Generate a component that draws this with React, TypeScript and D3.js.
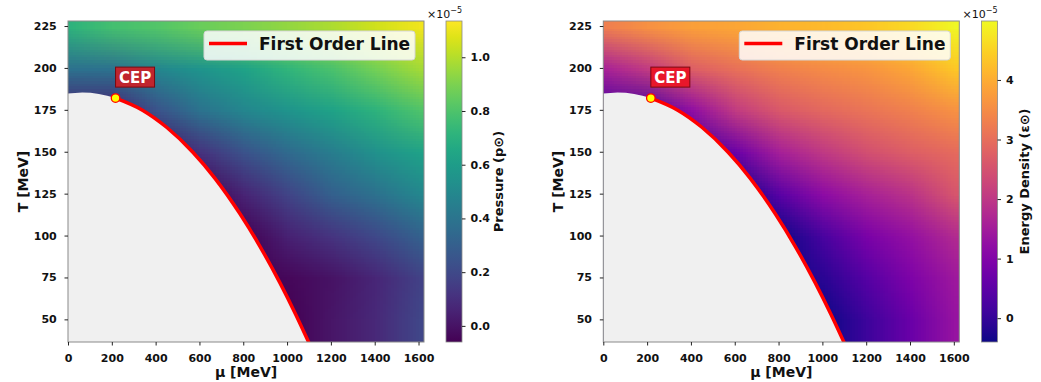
import React, { useEffect, useRef } from 'react';
import * as d3 from 'd3';

const W = 1041;
const H = 382;
const FONT = 'DejaVu Sans, Verdana, sans-serif';

// axis ticks
const muTicks = [0, 200, 400, 600, 800, 1000, 1200, 1400, 1600];
const tTicks = [50, 75, 100, 125, 150, 175, 200, 225];
const muDomain = [0, 1625];
const tDomain = [36.5, 228];

// grid the colour maps were read on
const gridMu = [0, 200, 400, 600, 800, 1000, 1200, 1400, 1600];
const gridT = [225, 200, 175, 150, 125, 100, 75, 50];

// pressure in units of 1e-5, rows follow gridT (cells inside the hadronic region are covered)
const pressure = [
  [0.71, 0.78, 0.81, 0.86, 0.9, 0.94, 0.99, 1.05, 1.11],
  [0.38, 0.39, 0.49, 0.56, 0.63, 0.72, 0.79, 0.88, 0.97],
  [0.06, 0.06, 0.24, 0.39, 0.49, 0.56, 0.63, 0.71, 0.8],
  [-0.06, -0.06, 0.0, 0.11, 0.24, 0.35, 0.44, 0.54, 0.62],
  [-0.06, -0.06, -0.06, -0.06, 0.06, 0.18, 0.3, 0.38, 0.49],
  [-0.06, -0.06, -0.06, -0.06, -0.06, 0.05, 0.12, 0.2, 0.3],
  [-0.06, -0.06, -0.06, -0.06, -0.06, -0.04, 0.0, 0.07, 0.17],
  [-0.06, -0.06, -0.06, -0.06, -0.06, -0.06, 0.01, 0.08, 0.19],
];

// energy density in units of 1e-5
const energy = [
  [3.27, 3.59, 3.8, 3.91, 4.07, 4.18, 4.34, 4.61, 4.95],
  [1.59, 2.08, 2.73, 3.05, 3.32, 3.48, 3.64, 3.91, 4.34],
  [0.25, 0.25, 1.22, 2.08, 2.62, 2.89, 3.1, 3.32, 3.59],
  [-0.4, -0.4, 0.03, 0.68, 1.54, 2.03, 2.46, 2.73, 2.94],
  [-0.4, -0.4, -0.4, -0.4, 0.46, 1.16, 1.59, 1.92, 2.56],
  [-0.4, -0.4, -0.4, -0.4, -0.4, 0.25, 0.89, 1.27, 1.76],
  [-0.4, -0.4, -0.4, -0.4, -0.4, -0.13, 0.41, 0.95, 1.43],
  [-0.4, -0.4, -0.4, -0.4, -0.4, -0.4, 0.09, 0.68, 1.32],
];

// phase boundary (crossover up to the CEP, first order line after it)
const boundaryMu = [0, 65, 217, 340, 450, 570, 670, 785, 876, 967, 1040, 1110];
const boundaryT = [184.7, 185.3, 182, 174.8, 164.6, 149.7, 134.3, 113.0, 93.6, 71.9, 52.8, 33.1];
const cepMu = 217;
const cepT = 182;

const pressureTicks = [0, 0.2, 0.4, 0.6, 0.8, 1.0];
const pressureRange = [-0.06, 1.135];
const energyTicks = [0, 1, 2, 3, 4];
const energyRange = [-0.4, 4.99];

const plotTop = 21;
const plotBottom = 342;
const plotW = 356;
const cbW = 16;

function gridImage(values: number[][], color: (v: number) => string) {
  const ny = values.length;
  const nx = values[0].length;
  const c = document.createElement('canvas');
  c.width = nx + 2;
  c.height = ny + 2;
  const ctx = c.getContext('2d')!;
  for (let j = 0; j < ny + 2; j++) {
    for (let i = 0; i < nx + 2; i++) {
      const r = Math.min(ny - 1, Math.max(0, j - 1));
      const k = Math.min(nx - 1, Math.max(0, i - 1));
      ctx.fillStyle = color(values[r][k]);
      ctx.fillRect(i, j, 1, 1);
    }
  }
  return c.toDataURL();
}

type PanelOpts = {
  id: string;
  left: number;
  cbLeft: number;
  values: number[][];
  interp: (t: number) => string;
  cRange: number[];
  cTicks: number[];
  cFormat: (v: number) => string;
  cLabel: string;
  cLabelX: number;
  boxFill: string;
};

function drawPanel(svg: d3.Selection<SVGSVGElement, unknown, null, undefined>, o: PanelOpts) {
  const x = d3.scaleLinear().domain(muDomain).range([o.left, o.left + plotW]);
  const y = d3.scaleLinear().domain(tDomain).range([plotBottom, plotTop]);
  const color = d3.scaleSequential(o.interp).domain(o.cRange as [number, number]);

  const defs = svg.append('defs');
  defs.append('clipPath').attr('id', `clip-${o.id}`)
    .append('rect')
    .attr('x', o.left).attr('y', plotTop)
    .attr('width', plotW).attr('height', plotBottom - plotTop);

  const g = svg.append('g');
  const plot = g.append('g').attr('clip-path', `url(#clip-${o.id})`);

  // colour map
  const dMu = gridMu[1] - gridMu[0];
  const dT = gridT[0] - gridT[1];
  const x0 = x(gridMu[0] - 1.5 * dMu);
  const x1 = x(gridMu[gridMu.length - 1] + 1.5 * dMu);
  const y0 = y(gridT[0] + 1.5 * dT);
  const y1 = y(gridT[gridT.length - 1] - 1.5 * dT);
  plot.append('image')
    .attr('href', gridImage(o.values, color))
    .attr('x', x0).attr('y', y0)
    .attr('width', x1 - x0).attr('height', y1 - y0)
    .attr('preserveAspectRatio', 'none')
    .style('image-rendering', 'auto');

  // hadronic region
  const pts: [number, number][] = boundaryMu.map((m, i) => [m, boundaryT[i]]);
  const area = d3.area<[number, number]>()
    .x(d => x(d[0]))
    .y0(plotBottom + 10)
    .y1(d => y(d[1]))
    .curve(d3.curveMonotoneX);
  plot.append('path')
    .datum([[-20, boundaryT[0]] as [number, number], ...pts])
    .attr('d', area)
    .attr('fill', '#f0f0f0');

  // first order line
  const line = d3.line<[number, number]>()
    .x(d => x(d[0]))
    .y(d => y(d[1]))
    .curve(d3.curveMonotoneX);
  plot.append('path')
    .datum(pts.filter(d => d[0] >= cepMu))
    .attr('d', line)
    .attr('fill', 'none')
    .attr('stroke', '#ff0000')
    .attr('stroke-width', 3.5);

  // CEP marker and label
  g.append('circle')
    .attr('cx', x(cepMu)).attr('cy', y(cepT)).attr('r', 4.3)
    .attr('fill', '#ffff00').attr('stroke', '#ff0000').attr('stroke-width', 1.3);
  const bx = x(cepMu);
  const by = y(cepT) - 31;
  g.append('rect')
    .attr('x', bx).attr('y', by).attr('width', 39).attr('height', 20)
    .attr('fill', o.boxFill).attr('stroke', '#7a0a10').attr('stroke-width', 1);
  g.append('text')
    .attr('x', bx + 19.5).attr('y', by + 15.5)
    .attr('text-anchor', 'middle')
    .attr('font-family', FONT).attr('font-weight', 'bold').attr('font-size', 15)
    .attr('fill', '#ffffff')
    .text('CEP');

  // legend
  const lx = o.left + 136;
  g.append('rect')
    .attr('x', lx).attr('y', 31).attr('width', 211).attr('height', 29).attr('rx', 3)
    .attr('fill', '#ffffff').attr('fill-opacity', 0.85)
    .attr('stroke', '#d6d6d6').attr('stroke-width', 1);
  g.append('line')
    .attr('x1', lx + 5).attr('x2', lx + 43).attr('y1', 43.5).attr('y2', 43.5)
    .attr('stroke', '#ff0000').attr('stroke-width', 3.5);
  g.append('text')
    .attr('x', lx + 55).attr('y', 50)
    .attr('font-family', FONT).attr('font-weight', 'bold').attr('font-size', 17)
    .attr('fill', '#111')
    .text('First Order Line');

  // frame
  g.append('rect')
    .attr('x', o.left).attr('y', plotTop)
    .attr('width', plotW).attr('height', plotBottom - plotTop)
    .attr('fill', 'none').attr('stroke', '#8a8a8a').attr('stroke-width', 1);

  const styleAxis = (a: d3.Selection<SVGGElement, unknown, null, undefined>) => {
    a.select('.domain').remove();
    a.attr('font-family', FONT).attr('font-size', 11).attr('font-weight', 'bold');
    a.selectAll('line').attr('stroke', '#222');
    a.selectAll('text').attr('fill', '#111');
  };

  const xa = g.append('g')
    .attr('transform', `translate(0,${plotBottom})`)
    .call(d3.axisBottom(x).tickValues(muTicks).tickSize(3.5).tickPadding(8.5).tickFormat(d3.format('d')));
  styleAxis(xa);
  const ya = g.append('g')
    .attr('transform', `translate(${o.left},0)`)
    .call(d3.axisLeft(y).tickValues(tTicks).tickSize(3.5).tickPadding(7.8).tickFormat(d3.format('d')));
  styleAxis(ya);

  g.append('text')
    .attr('x', o.left + plotW / 2).attr('y', 377)
    .attr('text-anchor', 'middle')
    .attr('font-family', FONT).attr('font-weight', 'bold').attr('font-size', 14)
    .attr('fill', '#111')
    .text('μ [MeV]');
  g.append('text')
    .attr('transform', `translate(${o.left - 40},${(plotTop + plotBottom) / 2}) rotate(-90)`)
    .attr('text-anchor', 'middle')
    .attr('font-family', FONT).attr('font-weight', 'bold').attr('font-size', 14)
    .attr('fill', '#111')
    .text('T [MeV]');

  // colour bar
  const grad = defs.append('linearGradient').attr('id', `grad-${o.id}`)
    .attr('x1', 0).attr('y1', 1).attr('x2', 0).attr('y2', 0);
  d3.range(0, 21).forEach(i => {
    grad.append('stop').attr('offset', i / 20).attr('stop-color', o.interp(i / 20));
  });
  g.append('rect')
    .attr('x', o.cbLeft).attr('y', plotTop)
    .attr('width', cbW).attr('height', plotBottom - plotTop)
    .attr('fill', `url(#grad-${o.id})`)
    .attr('stroke', '#8a8a8a').attr('stroke-width', 0.8);
  const cScale = d3.scaleLinear().domain(o.cRange).range([plotBottom, plotTop]);
  const ca = g.append('g')
    .attr('transform', `translate(${o.cbLeft + cbW},0)`)
    .call(d3.axisRight(cScale).tickValues(o.cTicks).tickSize(3.5).tickPadding(5).tickFormat(o.cFormat as any));
  styleAxis(ca);

  g.append('text')
    .attr('transform', `translate(${o.cLabelX},${(plotTop + plotBottom) / 2}) rotate(-90)`)
    .attr('text-anchor', 'middle')
    .attr('font-family', FONT).attr('font-weight', 'bold').attr('font-size', 13)
    .attr('fill', '#111')
    .text(o.cLabel);

  const off = g.append('text')
    .attr('x', o.cbLeft + cbW).attr('y', 18)
    .attr('text-anchor', 'end')
    .attr('font-family', FONT).attr('font-size', 11)
    .attr('fill', '#111');
  off.append('tspan').text('×10');
  off.append('tspan').attr('dy', -5).attr('font-size', 8).text('−5');
}

const App = () => {
  const svgRef = useRef<SVGSVGElement>(null);

  useEffect(() => {
    const svg = d3.select(svgRef.current!);
    svg.selectAll('*').remove();

    drawPanel(svg, {
      id: 'p',
      left: 68,
      cbLeft: 446,
      values: pressure,
      interp: d3.interpolateViridis,
      cRange: pressureRange,
      cTicks: pressureTicks,
      cFormat: d3.format('.1f'),
      cLabel: 'Pressure (p⊙)',
      cLabelX: 503,
      boxFill: '#c0252e',
    });
    drawPanel(svg, {
      id: 'e',
      left: 603.3,
      cbLeft: 981.5,
      values: energy,
      interp: d3.interpolatePlasma,
      cRange: energyRange,
      cTicks: energyTicks,
      cFormat: d3.format('d'),
      cLabel: 'Energy Density (ε⊙)',
      cLabelX: 1029,
      boxFill: '#e8172b',
    });
  }, []);

  return (
    <svg
      ref={svgRef}
      width={W}
      height={H}
      style={{ position: 'absolute', left: 0, top: 0, background: '#ffffff' }}
    />
  );
};

export default App;
